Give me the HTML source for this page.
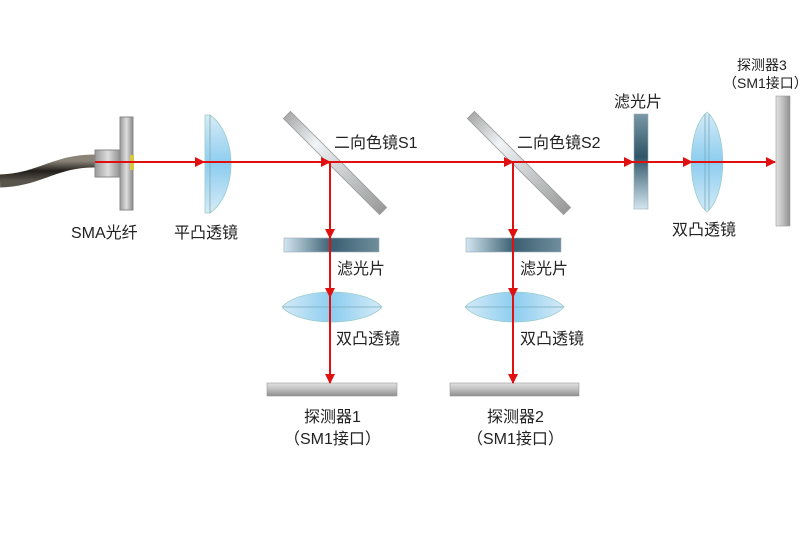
<!DOCTYPE html>
<html><head><meta charset="utf-8"><style>
html,body{margin:0;padding:0;background:#fff;}
svg{display:block;}
text{font-family:"Liberation Sans","Noto Sans CJK SC",sans-serif;font-size:16px;fill:#222;}
</style></head><body>
<svg width="800" height="549" viewBox="0 0 800 549" xmlns="http://www.w3.org/2000/svg">
<defs>
<linearGradient id="cable" x1="0" y1="0" x2="0" y2="1"><stop offset="0" stop-color="#8a8478"/><stop offset="0.5" stop-color="#221e1a"/><stop offset="1" stop-color="#5a554c"/></linearGradient>
<linearGradient id="metal" x1="0" y1="0" x2="1" y2="0"><stop offset="0" stop-color="#999"/><stop offset="0.5" stop-color="#ddd"/><stop offset="1" stop-color="#888"/></linearGradient>
<linearGradient id="lensH" x1="0" y1="0" x2="1" y2="0"><stop offset="0" stop-color="#d6ebf7"/><stop offset="0.5" stop-color="#8ccdf0"/><stop offset="1" stop-color="#d6ebf7"/></linearGradient>
<linearGradient id="lensV" x1="0" y1="0" x2="0" y2="1"><stop offset="0" stop-color="#d6ebf7"/><stop offset="0.5" stop-color="#8ccdf0"/><stop offset="1" stop-color="#d6ebf7"/></linearGradient>
<linearGradient id="filtH" x1="0" y1="0" x2="1" y2="0"><stop offset="0" stop-color="#d3e6f0"/><stop offset="0.5" stop-color="#3a5f72"/><stop offset="1" stop-color="#6f8e9c"/></linearGradient>
<linearGradient id="filtV" x1="0" y1="0" x2="0" y2="1"><stop offset="0" stop-color="#7a98a6"/><stop offset="0.45" stop-color="#2f5567"/><stop offset="1" stop-color="#d3e6f0"/></linearGradient>
<linearGradient id="mir" x1="0" y1="0" x2="1" y2="0"><stop offset="0" stop-color="#aaa"/><stop offset="0.3" stop-color="#f0f4f6"/><stop offset="1" stop-color="#999"/></linearGradient>
<linearGradient id="detH" x1="0" y1="0" x2="0" y2="1"><stop offset="0" stop-color="#e2e2e2"/><stop offset="0.5" stop-color="#bdbdbd"/><stop offset="1" stop-color="#8e8e8e"/></linearGradient>
<linearGradient id="detV" x1="0" y1="0" x2="1" y2="0"><stop offset="0" stop-color="#e2e2e2"/><stop offset="0.5" stop-color="#bdbdbd"/><stop offset="1" stop-color="#8e8e8e"/></linearGradient>
<marker id="ar" markerWidth="10" markerHeight="10" refX="9" refY="5" orient="auto" markerUnits="userSpaceOnUse"><path d="M0,0 L10,5 L0,10 Z" fill="#e01010"/></marker>
</defs>

<!-- fiber -->
<path d="M0,181 C40,180 55,160 97,161" stroke="url(#cable)" stroke-width="13" fill="none"/>
<rect x="95" y="150" width="26" height="27" fill="url(#metal)" stroke="#888"/>
<rect x="120" y="117" width="13" height="93" fill="url(#metal)" stroke="#888"/>
<rect x="130" y="155" width="4" height="15" fill="#d8c840"/>

<!-- plano-convex -->
<path d="M205,115 L210,115 C238,135 238,193 210,213 L205,213 Z" fill="url(#lensV)" stroke="#9cc" stroke-width="0.8"/>
<line x1="210" y1="115" x2="210" y2="213" stroke="#8aa" stroke-width="0.8"/>

<!-- mirrors -->
<g transform="translate(335,163) rotate(45)"><rect x="-68" y="-5" width="136" height="10" fill="url(#mir)" stroke="#999" stroke-width="0.8"/></g>
<g transform="translate(519,163) rotate(45)"><rect x="-68" y="-5" width="136" height="10" fill="url(#mir)" stroke="#999" stroke-width="0.8"/></g>

<!-- filters -->
<rect x="284" y="238" width="95" height="14" fill="url(#filtH)" stroke="#9ab" stroke-width="0.6"/>
<rect x="466" y="238" width="95" height="14" fill="url(#filtH)" stroke="#9ab" stroke-width="0.6"/>
<rect x="634" y="114" width="14" height="95" fill="url(#filtV)" stroke="#9ab" stroke-width="0.6"/>

<!-- biconvex -->
<path d="M282,307 C300,287 364,287 382,307 C364,327 300,327 282,307 Z" fill="url(#lensH)" stroke="#9cc" stroke-width="0.8"/>
<line x1="283" y1="307" x2="381" y2="307" stroke="#7ab" stroke-width="0.8"/>
<path d="M465,307 C483,287 546,287 564,307 C546,327 483,327 465,307 Z" fill="url(#lensH)" stroke="#9cc" stroke-width="0.8"/>
<line x1="466" y1="307" x2="563" y2="307" stroke="#7ab" stroke-width="0.8"/>
<path d="M707,112 C728,130 728,194 707,212 C686,194 686,130 707,112 Z" fill="url(#lensV)" stroke="#9cc" stroke-width="0.8"/>
<line x1="705" y1="114" x2="705" y2="210" stroke="#7ab" stroke-width="0.8"/>
<line x1="709" y1="114" x2="709" y2="210" stroke="#7ab" stroke-width="0.8"/>

<!-- detectors -->
<rect x="267" y="383" width="130" height="13" fill="url(#detH)" stroke="#999" stroke-width="0.6"/>
<rect x="450" y="383" width="129" height="13" fill="url(#detH)" stroke="#999" stroke-width="0.6"/>
<rect x="776" y="96" width="14" height="130" fill="url(#detV)" stroke="#999" stroke-width="0.6"/>

<!-- beams -->
<g stroke="#e01010" stroke-width="2" fill="none">
<line x1="95" y1="162" x2="204" y2="162" marker-end="url(#ar)"/>
<line x1="204" y1="162" x2="330" y2="162" marker-end="url(#ar)"/>
<line x1="330" y1="162" x2="513" y2="162" marker-end="url(#ar)"/>
<line x1="513" y1="162" x2="633" y2="162" marker-end="url(#ar)"/>
<line x1="633" y1="162" x2="692" y2="162" marker-end="url(#ar)"/>
<line x1="692" y1="162" x2="775" y2="162" marker-end="url(#ar)"/>
<line x1="330" y1="162" x2="330" y2="238" marker-end="url(#ar)"/>
<line x1="330" y1="238" x2="330" y2="297" marker-end="url(#ar)"/>
<line x1="330" y1="297" x2="330" y2="383" marker-end="url(#ar)"/>
<line x1="513" y1="162" x2="513" y2="238" marker-end="url(#ar)"/>
<line x1="513" y1="238" x2="513" y2="297" marker-end="url(#ar)"/>
<line x1="513" y1="297" x2="513" y2="383" marker-end="url(#ar)"/>
</g>

<!-- labels -->
<text x="71" y="238">SMA光纤</text>
<text x="174" y="238">平凸透镜</text>
<text x="334" y="148">二向色镜S1</text>
<text x="517" y="148">二向色镜S2</text>
<text x="337" y="274">滤光片</text>
<text x="520" y="274">滤光片</text>
<text x="336" y="344">双凸透镜</text>
<text x="520" y="344">双凸透镜</text>
<text x="614" y="107">滤光片</text>
<text x="672" y="235">双凸透镜</text>
<text x="304" y="422">探测器1</text>
<text x="284" y="444">（SM1接口）</text>
<text x="487" y="422">探测器2</text>
<text x="467" y="444">（SM1接口）</text>
<text x="737" y="70" style="font-size:14px">探测器3</text>
<text x="723" y="88" style="font-size:14px">（SM1接口）</text>
</svg>
</body></html>
